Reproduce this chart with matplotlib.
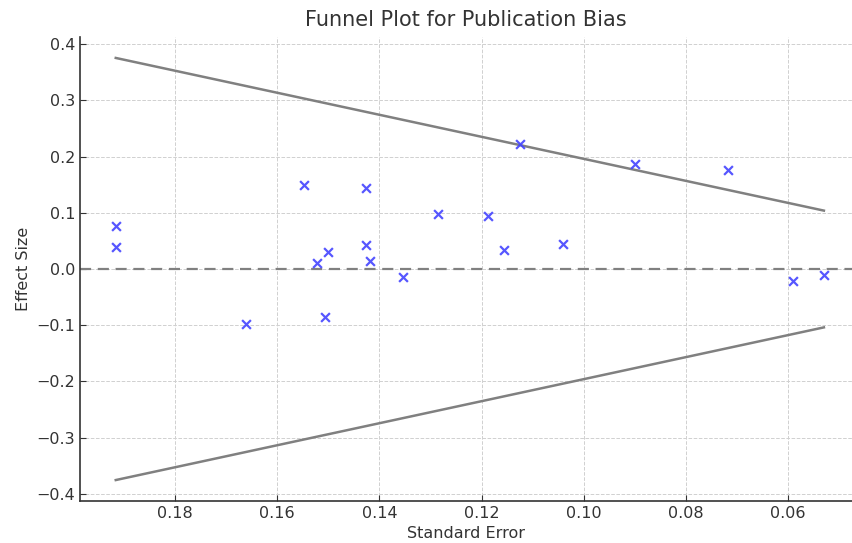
import numpy as np
import matplotlib
matplotlib.use("Agg")
import matplotlib.pyplot as plt

# standard errors and effect sizes
std_errors = [0.1916, 0.1916, 0.1661, 0.1547, 0.1522, 0.1500, 0.1506, 0.1426, 0.1426, 0.1418,
              0.1353, 0.1285, 0.1187, 0.1157, 0.1124, 0.1040, 0.0899, 0.0717, 0.0591, 0.0530]
effect_sizes = [0.076, 0.040, -0.098, 0.149, 0.011, 0.031, -0.086, 0.145, 0.042, 0.015,
                -0.015, 0.097, 0.095, 0.033, 0.223, 0.044, 0.187, 0.176, -0.021, -0.010]
z_value = 1.96

text_color = "#333333"
plt.rcParams["font.family"] = ["DejaVu Sans"]

fig = plt.figure(figsize=(8.52, 5.43), dpi=100)
ax = fig.add_axes([80 / 852, 42 / 543, 772 / 852, 464 / 543])

se_line = np.array(sorted(std_errors))
ax.plot(se_line, z_value * se_line, color="gray", linewidth=1.8)
ax.plot(se_line, -z_value * se_line, color="gray", linewidth=1.8)
ax.axhline(0, color="gray", linestyle="--", linewidth=1.6, dashes=(5, 3))
ax.scatter(std_errors, effect_sizes, marker="x", color="#4444ff", alpha=0.9, s=40, linewidths=1.6, zorder=3)

ax.set_xlim(0.1986, 0.0475)
ax.set_ylim(-0.4128, 0.4128)
ax.set_xticks([0.18, 0.16, 0.14, 0.12, 0.10, 0.08, 0.06])
ax.set_yticks([-0.4, -0.3, -0.2, -0.1, 0.0, 0.1, 0.2, 0.3, 0.4])

ax.set_title("Funnel Plot for Publication Bias", fontsize=15, color=text_color, pad=8)
ax.set_xlabel("Standard Error", fontsize=11.5, color=text_color, labelpad=4)
ax.set_ylabel("Effect Size", fontsize=11.5, color=text_color, labelpad=4)

ax.grid(True, color="#d0d0d0", linestyle="--", linewidth=0.7)
ax.set_axisbelow(True)
for side in ["top", "right"]:
    ax.spines[side].set_visible(False)
for side in ["left", "bottom"]:
    ax.spines[side].set_color(text_color)
    ax.spines[side].set_linewidth(1.2)
ax.tick_params(direction="in", colors=text_color, labelsize=11.5, length=4)

fig.savefig("out.png", dpi=100)
